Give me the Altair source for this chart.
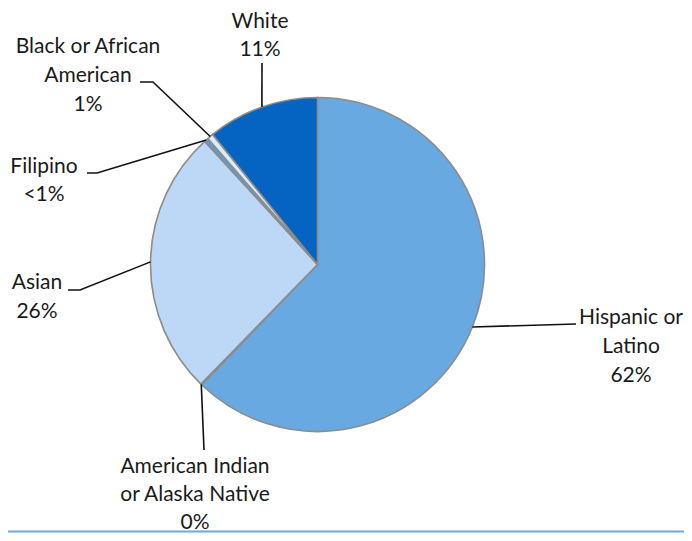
import math
import altair as alt
import pandas as pd

# ---- data ----
categories = ["Hispanic or Latino", "American Indian or Alaska Native", "Asian",
              "Filipino", "Black or African American", "White"]
shares = [62.2, 0.1, 25.9, 0.4, 0.6, 10.8]
pct_labels = ["62%", "0%", "26%", "<1%", "1%", "11%"]
label_lines = [["Hispanic or", "Latino"], ["American Indian", "or Alaska Native"],
               ["Asian"], ["Filipino"], ["Black or African", "American"], ["White"]]
colors = ["#69A9E2", "#A6A6A6", "#BDD7F6", "#5B9BD5", "#DDEBF7", "#0563C1"]

# ---- layout (pixels in chart coordinates) ----
W, H = 676, 525
CX, CY, R = 309.5, 256.5, 167
label_anchor = [(623, 310), (187, 459), (29, 275), (36, 159), (80, 39), (252, 14)]
label_lh = [29, 28, 29, 28, 29, 28]
leader_bends = [[(568, 316)], [(196, 442)], [(72, 282), (60, 282)],
                [(89, 165), (79, 165)], [(145, 74), (132, 74)], [(254, 55)]]

pie_df = pd.DataFrame({"cat": categories, "share": shares,
                       "idx": list(range(len(categories)))})

# text rows
txt_rows = []
for i, cat in enumerate(categories):
    lines = label_lines[i] + [pct_labels[i]]
    ax, ay = label_anchor[i]
    for j, t in enumerate(lines):
        txt_rows.append({"t": t, "x": ax, "y": ay + j * label_lh[i]})
txt_df = pd.DataFrame(txt_rows)

# leader rows: start on the slice edge at its mid angle
total = sum(shares)
cum = 0.0
lead_rows = []
for i, cat in enumerate(categories):
    mid = (cum + shares[i] / 2) / total * 2 * math.pi
    cum += shares[i]
    sx = CX + R * math.sin(mid)
    sy = CY - R * math.cos(mid)
    pts = [(sx, sy)] + leader_bends[i]
    for k, (px, py) in enumerate(pts):
        lead_rows.append({"g": cat, "k": k, "x": px, "y": py})
lead_df = pd.DataFrame(lead_rows)

xs = alt.Scale(domain=[0, W], nice=False, zero=False)
ys = alt.Scale(domain=[0, H], nice=False, zero=False, reverse=True)

pie = alt.Chart(pie_df).mark_arc(outerRadius=R, stroke="#8C8C8C", strokeWidth=1.6).encode(
    theta=alt.Theta("share:Q", stack=True),
    order=alt.Order("idx:Q"),
    color=alt.Color("cat:N", scale=alt.Scale(domain=categories, range=colors), legend=None),
    x=alt.value(CX), y=alt.value(CY),
)

leaders = alt.Chart(lead_df).mark_line(color="#111111", strokeWidth=1.6).encode(
    x=alt.X("x:Q", scale=xs, axis=None),
    y=alt.Y("y:Q", scale=ys, axis=None),
    detail="g:N",
    order="k:Q",
)

texts = alt.Chart(txt_df).mark_text(font="Lato", fontSize=21, color="#1A1A1A",
                                    align="center", baseline="middle").encode(
    x=alt.X("x:Q", scale=xs, axis=None),
    y=alt.Y("y:Q", scale=ys, axis=None),
    text="t:N",
)

bottom = alt.Chart(pd.DataFrame({"a": [0]})).mark_rule(color="#6FA8DC", strokeWidth=2).encode(
    x=alt.value(0), x2=alt.value(W), y=alt.value(523.5),
)

chart = alt.layer(pie, leaders, texts, bottom).properties(
    width=W, height=H, padding=0, autosize="none"
).configure_view(stroke=None)

chart.save("out.html", embed_options={"renderer": "svg", "actions": False})
